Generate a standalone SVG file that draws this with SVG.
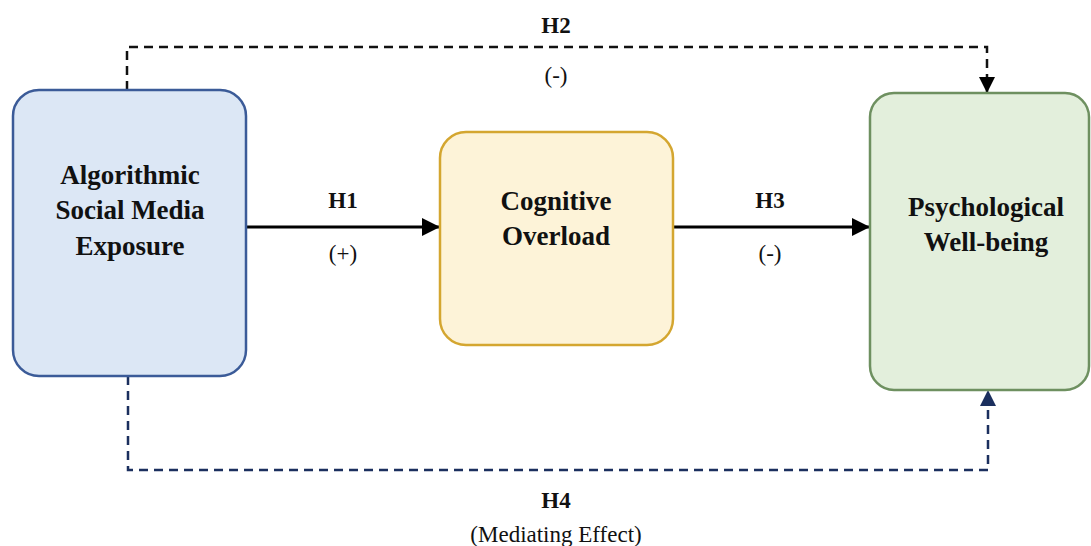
<svg xmlns="http://www.w3.org/2000/svg" width="1091" height="546" viewBox="0 0 1091 546">
<style>
.t{font-family:"Liberation Serif","Times New Roman",serif;fill:#111;text-anchor:middle}
.b{font-weight:bold;font-size:27px}
.h{font-weight:bold;font-size:23px}
.r{font-size:23px}
.solid{fill:none;stroke:#000;stroke-width:3}
.dash{fill:none;stroke:#111;stroke-width:2.5;stroke-dasharray:9 6}
.dashn{fill:none;stroke:#1b2f5e;stroke-width:2.5;stroke-dasharray:9 6}
</style>
<defs>
<marker id="abig" viewBox="0 0 10 10" refX="10" refY="5" markerWidth="18" markerHeight="18" orient="auto" markerUnits="userSpaceOnUse"><path d="M0,0L10,5L0,10z" fill="#000"/></marker>
<marker id="an" viewBox="0 0 10 10" refX="10" refY="5" markerWidth="16" markerHeight="16" orient="auto" markerUnits="userSpaceOnUse"><path d="M0,0L10,5L0,10z" fill="#1b2f5e"/></marker>
<marker id="ak" viewBox="0 0 10 10" refX="10" refY="5" markerWidth="16" markerHeight="16" orient="auto" markerUnits="userSpaceOnUse"><path d="M0,0L10,5L0,10z" fill="#000"/></marker>
</defs>
<rect width="1091" height="546" fill="#fff"/>
<g id="connectors">
<line class="solid" x1="246" y1="227" x2="440" y2="227" marker-end="url(#abig)"/>
<line class="solid" x1="673" y1="227" x2="870" y2="227" marker-end="url(#abig)"/>
<path class="dash" d="M127,90 V47 H987 V93" marker-end="url(#ak)"/>
<path class="dashn" d="M128,376 V470 H988 V390" marker-end="url(#an)"/>
</g>
<g id="labels">
<text class="t h" x="343" y="208">H1</text>
<text class="t r" x="343" y="261">(+)</text>
<text class="t h" x="770" y="208">H3</text>
<text class="t r" x="770" y="261">(-)</text>
<text class="t h" x="556" y="33">H2</text>
<text class="t r" x="556" y="83">(-)</text>
<text class="t h" x="556" y="508">H4</text>
<text class="t r" x="556" y="542">(Mediating Effect)</text>
</g>
<g id="node-exposure">
<rect x="13" y="90" width="233" height="286" rx="26" fill="#dce7f5" stroke="#3b5b98" stroke-width="2.5"/>
<text class="t b" x="130" y="184">Algorithmic</text>
<text class="t b" x="130" y="219">Social Media</text>
<text class="t b" x="130" y="255">Exposure</text>
</g>
<g id="node-overload">
<rect x="440" y="132" width="233" height="213" rx="26" fill="#fdf3d8" stroke="#d4a630" stroke-width="2.5"/>
<text class="t b" x="556" y="210">Cognitive</text>
<text class="t b" x="556" y="245">Overload</text>
</g>
<g id="node-wellbeing">
<rect x="870" y="93" width="219" height="297" rx="24" fill="#e3efdc" stroke="#6e9060" stroke-width="2.5"/>
<text class="t b" x="986" y="216">Psychological</text>
<text class="t b" x="986" y="251">Well-being</text>
</g>
</svg>
